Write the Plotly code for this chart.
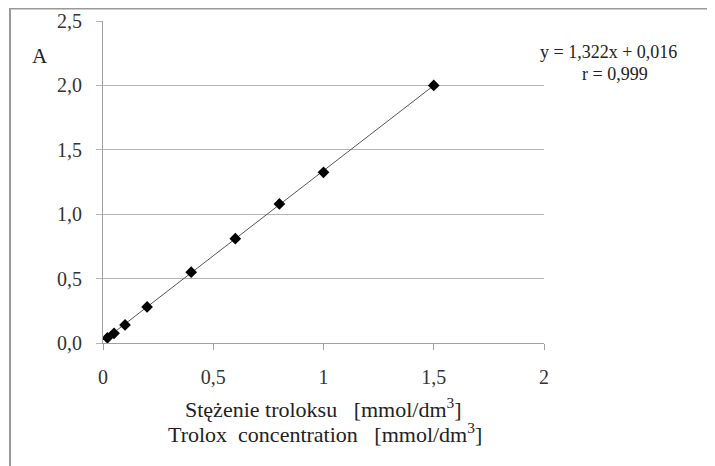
import plotly.graph_objects as go

conc = [0.02, 0.05, 0.1, 0.2, 0.4, 0.6, 0.8, 1.0, 1.5]
absorb = [0.04, 0.075, 0.14, 0.28, 0.55, 0.81, 1.08, 1.325, 2.0]
fit_slope = 1.322
fit_intercept = 0.016
y_ticks = [0, 0.5, 1.0, 1.5, 2.0, 2.5]
x_ticks = [0, 0.5, 1, 1.5, 2]

fit_x = [min(conc), max(conc)]
fit_y = [fit_slope * v + fit_intercept for v in fit_x]

FONT = "Times New Roman"
TXT = "#222222"
fig = go.Figure()
fig.add_trace(go.Scatter(x=fit_x, y=fit_y, mode="lines",
                         line=dict(color="#555555", width=1), hoverinfo="skip"))
fig.add_trace(go.Scatter(x=conc, y=absorb, mode="markers",
                         marker=dict(symbol="diamond", size=9, color="black")))

fig.update_layout(
    width=715, height=466,
    margin=dict(l=95, r=179, t=13, b=131),
    paper_bgcolor="white", plot_bgcolor="white",
    showlegend=False,
    separators=", ",
    font=dict(family=FONT, size=20, color=TXT),
    xaxis=dict(range=[0, 2], tickvals=x_ticks, showgrid=False, zeroline=False,
               automargin=False,
               showline=True, linecolor="#a0a0a0", linewidth=1,
               ticks="outside", ticklen=6, tickcolor="#a0a0a0",
               ticklabelstandoff=10,
               tickfont=dict(family=FONT, size=20, color="#333333")),
    yaxis=dict(range=[0, 2.5], tickvals=y_ticks, tickformat=".1f",
               automargin=False,
               showgrid=True, gridcolor="#b4b4b4", gridwidth=1, zeroline=False,
               showline=True, linecolor="#a0a0a0", linewidth=1,
               ticks="outside", ticklen=6, tickcolor="#b4b4b4",
               ticklabelstandoff=10,
               tickfont=dict(family=FONT, size=20, color="#333333")),
    shapes=[
        dict(type="line", xref="paper", yref="paper", x0=-0.2109, x1=-0.2109, y0=1.04, y1=-0.45,
             line=dict(color="#999999", width=2)),
        dict(type="line", xref="paper", yref="paper", x0=-0.2109, x1=1.5, y0=1.0388, y1=1.0388,
             line=dict(color="#999999", width=2)),
    ],
    annotations=[
        dict(text="A", xref="paper", yref="paper", x=-0.1429, y=0.89, showarrow=False,
             font=dict(family=FONT, size=21, color=TXT), xanchor="center", yanchor="middle"),
        dict(text="y = 1,322x + 0,016", xref="paper", yref="paper",
             x=1.146, y=0.904, showarrow=False,
             font=dict(family=FONT, size=18, color=TXT), xanchor="center", yanchor="middle"),
        dict(text="r = 0,999", xref="paper", yref="paper",
             x=1.161, y=0.835, showarrow=False,
             font=dict(family=FONT, size=18, color=TXT), xanchor="center", yanchor="middle"),
        dict(text="Stężenie troloksu\u00a0\u00a0\u00a0[mmol/dm<sup>3</sup>]",
             xref="paper", yref="paper", x=0.499, y=-0.202, showarrow=False,
             font=dict(family=FONT, size=22, color=TXT), xanchor="center", yanchor="middle"),
        dict(text="Trolox\u00a0\u00a0concentration\u00a0\u00a0\u00a0[mmol/dm<sup>3</sup>]",
             xref="paper", yref="paper", x=0.503, y=-0.2795, showarrow=False,
             font=dict(family=FONT, size=22, color=TXT), xanchor="center", yanchor="middle"),
    ],
)
fig.write_html("out.html")
